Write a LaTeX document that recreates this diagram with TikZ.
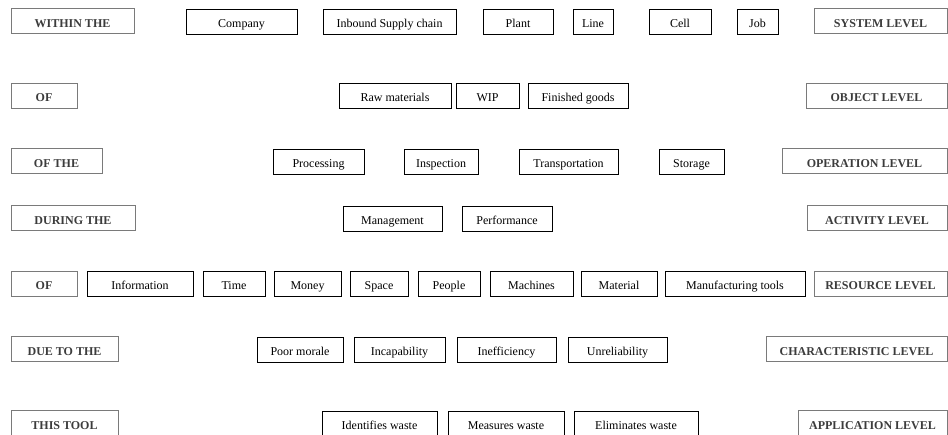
\documentclass[tikz,border=0pt]{standalone}
\usepackage{fontspec}
\setmainfont{Liberation Serif}
\definecolor{levelframe}{HTML}{7A7A7A}
\definecolor{levelink}{HTML}{3C3C3C}
\tikzset{
    every node/.style={align=center,font=\fontsize{12}{14}\selectfont,inner sep=0pt,minimum height=25pt,text height=12pt,text depth=0pt},
    item/.style={draw,rectangle,line width=0.8pt,},
    level/.style={draw=levelframe,rectangle,line width=1pt,text=levelink,font=\fontsize{12}{14}\selectfont\bfseries,},
}
\begin{document}
\begin{tikzpicture}[x=1pt,y=-1pt]
        \useasboundingbox (0,0) rectangle (948,435);

        % system level
        \node[level, minimum width=123pt] (within) at (72.5, 21.5) {WITHIN THE};
        \node[item, minimum width=111pt] (company) at (241.5, 21.5) {Company};
        \node[item, minimum width=133pt] (supply) at (389.5, 21.5) {Inbound Supply chain};
        \node[item, minimum width=70pt] (plant) at (518, 21.5) {Plant};
        \node[item, minimum width=40pt] (line) at (593, 21.5) {Line};
        \node[item, minimum width=62pt] (cell) at (680, 21.5) {Cell};
        \node[item, minimum width=41pt] (job) at (757.5, 21.5) {Job};
        \node[level, minimum width=133pt] (system) at (880.5, 21.5) {SYSTEM LEVEL};

        % object level
        \node[level, minimum width=66pt] (of) at (44, 96) {OF};
        \node[item, minimum width=112pt] (raw) at (395, 96) {Raw materials};
        \node[item, minimum width=63pt] (wip) at (487.5, 96) {WIP};
        \node[item, minimum width=100pt] (finished) at (578, 96) {Finished goods};
        \node[level, minimum width=141pt] (object) at (876.5, 96) {OBJECT LEVEL};

        % operation level
        \node[level, minimum width=91pt] (ofthe) at (56.5, 161.5) {OF THE};
        \node[item, minimum width=91pt] (processing) at (318.5, 161.5) {Processing};
        \node[item, minimum width=74pt] (inspection) at (441, 161.5) {Inspection};
        \node[item, minimum width=99pt] (transport) at (568.5, 161.5) {Transportation};
        \node[item, minimum width=65pt] (storage) at (691.5, 161.5) {Storage};
        \node[level, minimum width=165pt] (operation) at (864.5, 161.5) {OPERATION LEVEL};

        % activity level
        \node[level, minimum width=124pt] (during) at (73, 218.5) {DURING THE};
        \node[item, minimum width=99pt] (management) at (392.5, 218.5) {Management};
        \node[item, minimum width=90pt] (performance) at (507, 218.5) {Performance};
        \node[level, minimum width=140pt] (activity) at (877, 218.5) {ACTIVITY LEVEL};

        % resource level
        \node[level, minimum width=66pt] (of2) at (44, 284) {OF};
        \node[item, minimum width=106pt] (information) at (140, 284) {Information};
        \node[item, minimum width=62pt] (time) at (234, 284) {Time};
        \node[item, minimum width=67pt] (money) at (307.5, 284) {Money};
        \node[item, minimum width=58pt] (space) at (379, 284) {Space};
        \node[item, minimum width=62pt] (people) at (449, 284) {People};
        \node[item, minimum width=83pt] (machines) at (531.5, 284) {Machines};
        \node[item, minimum width=76pt] (material) at (619, 284) {Material};
        \node[item, minimum width=140pt] (tools) at (735, 284) {Manufacturing tools};
        \node[level, minimum width=133pt] (resource) at (880.5, 284) {RESOURCE LEVEL};

        % characteristic level
        \node[level, minimum width=107pt] (dueto) at (64.5, 349.5) {DUE TO THE};
        \node[item, minimum width=86pt] (morale) at (300, 349.5) {Poor morale};
        \node[item, minimum width=91pt] (incapability) at (399.5, 349.5) {Incapability};
        \node[item, minimum width=99pt] (inefficiency) at (506.5, 349.5) {Inefficiency};
        \node[item, minimum width=99pt] (unreliability) at (617.5, 349.5) {Unreliability};
        \node[level, minimum width=181pt] (characteristic) at (856.5, 349.5) {CHARACTERISTIC LEVEL};

        % application level
        \node[level, minimum width=107pt] (tool) at (64.5, 423.5) {THIS TOOL};
        \node[item, minimum width=115pt] (identifies) at (379.5, 423.5) {Identifies waste};
        \node[item, minimum width=116pt] (measures) at (506, 423.5) {Measures waste};
        \node[item, minimum width=124pt] (eliminates) at (636, 423.5) {Eliminates waste};
        \node[level, minimum width=149pt] (application) at (872.5, 423.5) {APPLICATION LEVEL};
    \end{tikzpicture}
\end{document}
